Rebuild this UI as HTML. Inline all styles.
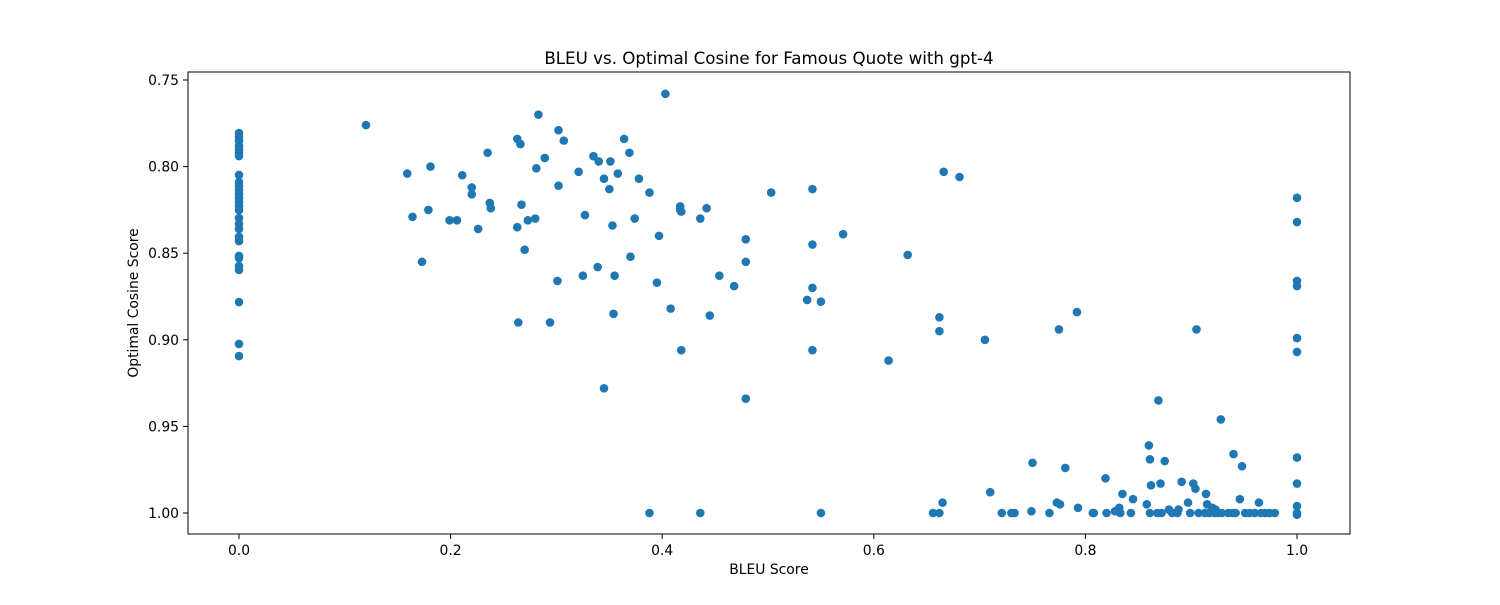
<!DOCTYPE html>
<html><head><meta charset="utf-8"><style>
html,body{margin:0;padding:0;background:#fff;}
svg text{font-family:"DejaVu Sans","Liberation Sans",sans-serif;fill:#000;}
</style></head><body>
<svg id="chart" width="1500" height="600" xmlns="http://www.w3.org/2000/svg">
<rect x="0" y="0" width="1500" height="600" fill="#fff"/>
<text x="769" y="64" font-size="16.7" text-anchor="middle">BLEU vs. Optimal Cosine for Famous Quote with gpt-4</text>
<g id="points"></g>
<g id="axes"></g>
<rect x="188" y="72" width="1162" height="462" fill="none" stroke="#000" stroke-width="1"/>
<text x="769" y="574" font-size="13.9" text-anchor="middle">BLEU Score</text>
<text transform="translate(138,303) rotate(-90)" font-size="13.9" text-anchor="middle">Optimal Cosine Score</text>
</svg>
<script>
const xTicks=[0,0.2,0.4,0.6,0.8,1.0];
const xTickLabels=["0.0","0.2","0.4","0.6","0.8","1.0"];
const yTicks=[0.75,0.80,0.85,0.90,0.95,1.00];
const yTickLabels=["0.75","0.80","0.85","0.90","0.95","1.00"];
const zeroY=[0.7806,0.7829,0.7852,0.7881,0.7904,0.7921,0.7939,0.8048,0.8089,0.8112,0.8135,0.8158,0.8181,0.8204,0.8227,0.8251,0.8297,0.8331,0.8360,0.8406,0.8430,0.8516,0.8528,0.8574,0.8597,0.8782,0.9024,0.9094];
const oneY=[0.818,0.832,0.866,0.869,0.899,0.907,0.968,0.983,0.996,1.000,1.001];
const bleu=[0.120,0.159,0.164,0.173,0.179,0.181,0.199,0.206,0.211,0.220,0.220,0.226,0.235,0.237,0.238,0.263,0.263,0.266,0.264,0.267,0.270,0.273,0.280,0.281,0.283,0.289,0.294,0.301,0.302,0.302,0.307,0.321,0.325,0.327,0.335,0.339,0.340,0.345,0.345,0.350,0.351,0.353,0.354,0.355,0.358,0.364,0.369,0.370,0.374,0.378,0.388,0.388,0.395,0.397,0.403,0.408,0.417,0.417,0.418,0.418,0.436,0.436,0.442,0.445,0.454,0.468,0.479,0.479,0.479,0.503,0.537,0.542,0.542,0.542,0.542,0.550,0.550,0.571,0.614,0.632,0.656,0.662,0.662,0.662,0.665,0.666,0.681,0.705,0.710,0.721,0.730,0.733,0.749,0.750,0.766,0.773,0.775,0.776,0.781,0.792,0.793,0.807,0.808,0.819,0.820,0.828,0.832,0.833,0.835,0.843,0.845,0.858,0.860,0.861,0.862,0.861,0.868,0.869,0.871,0.872,0.875,0.879,0.882,0.887,0.888,0.891,0.897,0.899,0.902,0.904,0.905,0.907,0.913,0.914,0.915,0.917,0.920,0.922,0.923,0.925,0.928,0.929,0.935,0.939,0.940,0.942,0.946,0.948,0.951,0.955,0.960,0.964,0.966,0.970,0.974,0.979];
const cosine=[0.776,0.804,0.829,0.855,0.825,0.800,0.831,0.831,0.805,0.812,0.816,0.836,0.792,0.821,0.824,0.835,0.784,0.787,0.890,0.822,0.848,0.831,0.830,0.801,0.770,0.795,0.890,0.866,0.779,0.811,0.785,0.803,0.863,0.828,0.794,0.858,0.797,0.807,0.928,0.813,0.797,0.834,0.885,0.863,0.804,0.784,0.792,0.852,0.830,0.807,0.815,1.000,0.867,0.840,0.758,0.882,0.823,0.825,0.826,0.906,0.830,1.000,0.824,0.886,0.863,0.869,0.842,0.855,0.934,0.815,0.877,0.813,0.845,0.870,0.906,0.878,1.000,0.839,0.912,0.851,1.000,1.000,0.887,0.895,0.994,0.803,0.806,0.900,0.988,1.000,1.000,1.000,0.999,0.971,1.000,0.994,0.894,0.995,0.974,0.884,0.997,1.000,1.000,0.980,1.000,0.999,0.997,1.000,0.989,1.000,0.992,0.995,0.961,0.969,0.984,1.000,1.000,0.935,0.983,1.000,0.970,0.998,1.000,1.000,0.998,0.982,0.994,1.000,0.983,0.986,0.894,1.000,1.000,0.989,0.995,1.000,0.997,1.000,0.998,1.000,0.946,1.000,1.000,1.000,0.966,1.000,0.992,0.973,1.000,1.000,1.000,0.994,1.000,1.000,1.000,1.000];
const NS="http://www.w3.org/2000/svg";
function xs(v){return 239+v*1058;}
function ys(v){return 80+(v-0.75)*1732;}
const pts=document.getElementById('points');
const axes=document.getElementById('axes');
function dot(x,y){
  const c=document.createElementNS(NS,'circle');
  c.setAttribute('cx',xs(x));c.setAttribute('cy',ys(y));c.setAttribute('r',4.3);c.setAttribute('fill','#1f77b4');
  
  
  pts.appendChild(c);
}
zeroY.forEach(v=>dot(0,v));
bleu.forEach((b,i)=>dot(b,cosine[i]));
oneY.forEach(v=>dot(1,v));
xTicks.forEach((t,i)=>{
  const l=document.createElementNS(NS,'line');
  l.setAttribute('x1',xs(t));l.setAttribute('x2',xs(t));l.setAttribute('y1',534);l.setAttribute('y2',539);l.setAttribute('stroke','#000');
  
  
  axes.appendChild(l);
  const tx=document.createElementNS(NS,'text');
  tx.setAttribute('x',xs(t));tx.setAttribute('y',555);tx.setAttribute('font-size','13.9');tx.setAttribute('text-anchor','middle');
  tx.textContent=xTickLabels[i];
  
  
  axes.appendChild(tx);
});
yTicks.forEach((t,i)=>{
  const l=document.createElementNS(NS,'line');
  l.setAttribute('x1',183);l.setAttribute('x2',188);l.setAttribute('y1',ys(t));l.setAttribute('y2',ys(t));l.setAttribute('stroke','#000');
  
  
  axes.appendChild(l);
  const tx=document.createElementNS(NS,'text');
  tx.setAttribute('x',179);tx.setAttribute('y',ys(t)+5);tx.setAttribute('font-size','13.9');tx.setAttribute('text-anchor','end');
  tx.textContent=yTickLabels[i];
  
  
  axes.appendChild(tx);
});
</script>
</body></html>
